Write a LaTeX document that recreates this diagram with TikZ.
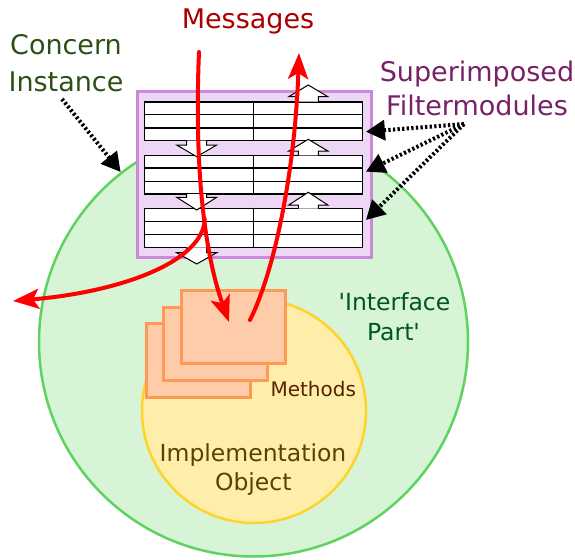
\documentclass[tikz,border=0pt]{standalone}
\usepackage{fontspec}
\setmainfont{DejaVu Sans}
\usetikzlibrary{arrows.meta,calc}
\definecolor{cigreen}{HTML}{D7F4D7}
\definecolor{cigreenline}{HTML}{5FD35F}
\definecolor{implfill}{HTML}{FFEEAA}
\definecolor{implline}{HTML}{FFD42A}
\definecolor{fmfill}{HTML}{EED7F4}
\definecolor{fmline}{HTML}{CD87DE}
\definecolor{methfill}{HTML}{FFCCAA}
\definecolor{methline}{HTML}{FF9955}
\definecolor{msgred}{HTML}{AA0000}
\definecolor{concerncol}{HTML}{2D5016}
\definecolor{supercol}{HTML}{782167}
\definecolor{ifacecol}{HTML}{005522}
\definecolor{methcol}{HTML}{552200}
\definecolor{implcol}{HTML}{554400}
\newcommand{\fmdownarrow}[4]{%
  \draw[fmarrow] (#1-10,#2) -- (#1-10,#3) -- (#1-20,#3) -- (#1,#4) -- (#1+20,#3) -- (#1+10,#3) -- (#1+10,#2);}
\newcommand{\fmuparrow}[4]{%
  \draw[fmarrow] (#1-10,#2) -- (#1-10,#3) -- (#1-19.5,#3) -- (#1,#4) -- (#1+19.5,#3) -- (#1+10,#3) -- (#1+10,#2);}
\begin{document}
\begin{tikzpicture}[x=1pt,y=-1pt,
  fmtable/.style={draw=black, fill=white, line width=1.5pt, minimum width=218pt, minimum height=38.8pt, inner sep=0pt},
  fmarrow/.style={draw=black, fill=white, line width=1pt, line join=miter},
  methbox/.style={draw=methline, fill=methfill, line width=3pt, minimum width=104pt, minimum height=73.7pt, inner sep=0pt},
  msgarrow/.style={draw=red, line width=4pt, line cap=round, -{Stealth[length=26pt,width=20pt,inset=6pt]}},
  dotarrow/.style={draw=black, line width=4pt, dash pattern=on 2.3pt off 2.3pt, -{Triangle[length=19pt,width=20pt]}},
  bigtext/.style={font=\fontsize{27}{33}\selectfont, anchor=base, inner sep=0pt},
  midtext/.style={font=\fontsize{23.5}{28}\selectfont, anchor=base, inner sep=0pt},
  smalltext/.style={font=\fontsize{20}{24}\selectfont, anchor=base, inner sep=0pt}]
\useasboundingbox (0,0) rectangle (575,559);
% concern instance circle
\node[circle, draw=cigreenline, fill=cigreen, line width=2.5pt, minimum size=429pt, inner sep=0pt] (ci) at (253.5,342) {};
% implementation object circle
\node[circle, draw=implline, fill=implfill, line width=2.5pt, minimum size=224pt, inner sep=0pt] (impl) at (254,411) {};
% filtermodule box
\node[draw=fmline, fill=fmfill, line width=3pt, minimum width=234pt, minimum height=165pt, inner sep=0pt] (fmbox) at (254,174.5) {};
% filter tables
\foreach \n/\yc in {1/121.2, 2/174.65, 3/228} {
  \node[fmtable] (fm\n) at (253.7,\yc) {};
  \draw[line width=1.5pt] (fm\n.north) -- (fm\n.south);
  \draw[line width=1.5pt] ($(fm\n.north west)!1/3!(fm\n.south west)$) -- ($(fm\n.north east)!1/3!(fm\n.south east)$);
  \draw[line width=1.5pt] ($(fm\n.north west)!2/3!(fm\n.south west)$) -- ($(fm\n.north east)!2/3!(fm\n.south east)$);
}
% filter arrows
\fmdownarrow{196.7}{140.7}{145}{156.7}
\fmdownarrow{196.7}{194}{197.3}{210}
\fmdownarrow{196.7}{247.3}{252.7}{264}
\fmuparrow{308.3}{101.7}{96.7}{85}
\fmuparrow{308.3}{155.3}{151}{139.3}
\fmuparrow{308.3}{208.7}{205}{192.3}
% methods
\node[methbox] (m1) at (198.7,360.8) {};
\node[methbox] (m2) at (215.7,344) {};
\node[methbox] (m3) at (233,327) {};
% texts
\node[bigtext, text=msgred] (msg) at (248,28.3) {Messages};
\node[bigtext, text=concerncol] (concern) at (66,55) {Concern};
\node[bigtext, text=concerncol] (instance) at (66,91.7) {Instance};
\node[bigtext, text=supercol] (super) at (477,81.7) {Superimposed};
\node[bigtext, text=supercol] (filtermod) at (477,115) {Filtermodules};
\node[midtext, text=ifacecol] (iface1) at (394.5,310.7) {\textquotesingle Interface};
\node[midtext, text=ifacecol] (iface2) at (393.5,340) {Part\textquotesingle};
\node[smalltext, text=methcol] (methods) at (313.3,396) {Methods};
\node[midtext, text=implcol] (impl1) at (253,461.7) {Implementation};
\node[midtext, text=implcol] (impl2) at (253.3,490) {Object};
% message arrows
\coordinate (inbegin) at (199,52);
\coordinate (inend) at (229,322);
\coordinate (leftend) at (13,301);
\coordinate (outbegin) at (250,320);
\coordinate (outend) at (299,53);
\path (inbegin) .. controls (194,170) and (205,255) .. (inend) coordinate[pos=0.55] (split);
\draw[msgarrow] (split) .. controls (203,262) and (120,292) .. (leftend);
\draw[msgarrow] (inbegin) .. controls (194,170) and (205,255) .. (inend);
\draw[msgarrow] (outbegin) .. controls (275,270) and (295,170) .. (outend);
% dotted arrows
\coordinate (cistart) at (62,99);
\coordinate (sfstart) at (464,124);
\draw[dotarrow] (cistart) -- (ci.128);
\draw[dotarrow] (sfstart) -- ($(fm1.east)+(2.5,10.5)$);
\draw[dotarrow] (sfstart) -- ($(fm2.east)+(2.5,-3)$);
\draw[dotarrow] (sfstart) -- ($(fm3.east)+(2.5,-8)$);
\end{tikzpicture}
\end{document}
